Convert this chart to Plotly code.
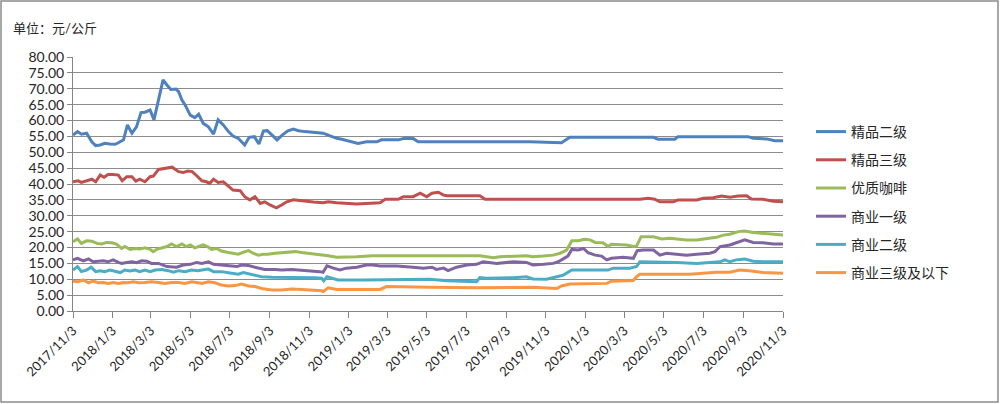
import plotly.graph_objects as go

# ---------------- data ----------------
series_names = ["精品二级", "精品三级", "优质咖啡", "商业一级", "商业二级", "商业三级及以下"]
series_colors = ["#4F81BD", "#C0504D", "#9BBB59", "#8064A2", "#4BACC6", "#F79646"]

dates_jp2 = ["2017-11-03", "2017-11-10", "2017-11-16", "2017-11-24", "2017-12-02", "2017-12-08", "2017-12-15",
             "2017-12-22", "2017-12-30", "2018-01-07", "2018-01-12", "2018-01-20", "2018-01-26", "2018-02-02",
             "2018-02-09", "2018-02-16", "2018-02-22", "2018-03-02", "2018-03-08", "2018-03-16", "2018-03-22",
             "2018-03-28", "2018-04-03", "2018-04-11", "2018-04-15", "2018-04-20", "2018-04-25", "2018-05-03",
             "2018-05-10", "2018-05-16", "2018-05-21", "2018-05-23", "2018-05-31", "2018-06-08", "2018-06-15",
             "2018-06-23", "2018-07-01", "2018-07-08", "2018-07-16", "2018-07-26", "2018-08-02", "2018-08-10",
             "2018-08-17", "2018-08-24", "2018-08-30", "2018-09-07", "2018-09-14", "2018-09-22", "2018-09-30",
             "2018-10-09", "2018-10-17", "2018-10-27", "2018-11-06", "2018-11-17", "2018-11-24", "2018-12-02",
             "2018-12-15", "2018-12-23", "2019-01-05", "2019-01-17", "2019-01-30", "2019-02-15", "2019-02-22",
             "2019-03-20", "2019-03-30", "2019-04-12", "2019-04-20", "2019-10-09", "2019-11-27", "2019-12-10",
             "2020-04-17", "2020-04-24", "2020-05-20", "2020-05-25", "2020-09-10", "2020-09-18", "2020-10-09",
             "2020-10-21", "2020-11-03"]
vals_jp2 = [55.4, 56.5, 55.7, 56.0, 53.3, 52.1, 52.3,
            52.8, 52.6, 52.5, 53.0, 53.9, 58.6, 56.0,
            58.0, 62.5, 62.6, 63.3, 60.2, 67.3, 72.8,
            71.2, 69.8, 69.9, 69.1, 66.5, 64.9, 61.7,
            60.9, 62.0, 60.2, 59.1, 58.0, 55.7, 60.2,
            58.6, 56.5, 55.1, 54.4, 52.3, 54.7, 54.9,
            52.6, 56.7, 56.8, 55.4, 53.9, 55.4, 56.7,
            57.3, 56.8, 56.5, 56.3, 56.2, 56.0, 55.4,
            54.4, 54.1, 53.3, 52.8, 53.3, 53.3, 53.9,
            53.9, 54.4, 54.3, 53.3, 53.3, 53.0, 54.7,
            54.7, 54.1, 54.1, 54.9, 54.9, 54.4, 54.2,
            53.6, 53.6]

dates_jp3 = ["2017-11-03", "2017-11-11", "2017-11-16", "2017-11-24", "2017-12-02", "2017-12-08", "2017-12-15",
             "2017-12-21", "2017-12-27", "2018-01-04", "2018-01-12", "2018-01-18", "2018-01-25", "2018-02-02",
             "2018-02-08", "2018-02-14", "2018-02-22", "2018-03-02", "2018-03-07", "2018-03-15", "2018-03-22",
             "2018-03-30", "2018-04-05", "2018-04-15", "2018-04-22", "2018-04-29", "2018-05-06", "2018-05-13",
             "2018-05-21", "2018-05-28", "2018-06-02", "2018-06-08", "2018-06-15", "2018-06-23", "2018-07-01",
             "2018-07-08", "2018-07-19", "2018-07-26", "2018-08-03", "2018-08-11", "2018-08-19", "2018-08-26",
             "2018-09-03", "2018-09-13", "2018-09-21", "2018-09-29", "2018-10-09", "2018-10-19", "2018-11-09",
             "2018-11-24", "2018-12-02", "2018-12-15", "2018-12-30", "2019-01-15", "2019-02-20", "2019-02-28",
             "2019-03-20", "2019-03-28", "2019-04-12", "2019-04-23", "2019-05-03", "2019-05-11", "2019-05-21",
             "2019-05-29", "2019-06-03", "2019-07-24", "2019-08-01", "2020-03-27", "2020-04-09", "2020-04-19",
             "2020-04-27", "2020-05-18", "2020-05-25", "2020-06-23", "2020-07-03", "2020-07-18", "2020-07-31",
             "2020-08-13", "2020-08-26", "2020-09-08", "2020-09-15", "2020-10-03", "2020-10-19", "2020-11-03"]
vals_jp3 = [40.7, 41.0, 40.5, 41.0, 41.5, 40.7, 42.8,
            42.1, 43.0, 43.0, 42.8, 41.0, 42.3, 42.3,
            40.9, 41.5, 40.7, 42.3, 42.5, 44.6, 44.9,
            45.1, 45.3, 43.9, 43.6, 44.1, 43.9, 42.6,
            41.0, 40.7, 40.2, 41.5, 40.5, 40.7, 39.2,
            38.1, 37.9, 36.0, 35.0, 36.0, 33.9, 34.4,
            33.4, 32.5, 33.4, 34.4, 35.0, 34.7, 34.3,
            34.1, 34.4, 34.1, 33.9, 33.7, 34.1, 35.2,
            35.2, 36.0, 36.0, 37.1, 36.0, 37.1, 37.4,
            36.5, 36.3, 36.3, 35.2, 35.2, 35.5, 35.2,
            34.4, 34.4, 35.0, 35.0, 35.5, 35.7, 36.2,
            35.8, 36.2, 36.3, 35.3, 35.2, 34.6, 34.4]

dates_yz = ["2017-11-03", "2017-11-10", "2017-11-16", "2017-11-24", "2017-12-02", "2017-12-10", "2017-12-17",
            "2017-12-25", "2018-01-02", "2018-01-09", "2018-01-17", "2018-01-22", "2018-01-30", "2018-02-07",
            "2018-02-14", "2018-02-22", "2018-03-02", "2018-03-07", "2018-03-12", "2018-03-20", "2018-03-28",
            "2018-04-04", "2018-04-12", "2018-04-20", "2018-04-27", "2018-05-03", "2018-05-10", "2018-05-16",
            "2018-05-23", "2018-05-31", "2018-06-05", "2018-06-13", "2018-06-20", "2018-07-01", "2018-07-08",
            "2018-07-16", "2018-07-24", "2018-08-01", "2018-08-08", "2018-08-16", "2018-08-24", "2018-08-31",
            "2018-09-11", "2018-09-21", "2018-10-01", "2018-10-12", "2018-10-22", "2018-11-01", "2018-11-11",
            "2018-11-22", "2018-12-02", "2018-12-15", "2019-01-05", "2019-01-15", "2019-02-09", "2019-07-24",
            "2019-08-14", "2019-08-24", "2019-10-04", "2019-10-14", "2019-10-30", "2019-11-14", "2019-11-25",
            "2019-12-05", "2019-12-13", "2019-12-23", "2020-01-02", "2020-01-10", "2020-01-18", "2020-01-30",
            "2020-02-07", "2020-02-12", "2020-03-07", "2020-03-17", "2020-03-22", "2020-03-29", "2020-04-17",
            "2020-04-30", "2020-05-12", "2020-06-07", "2020-06-23", "2020-07-08", "2020-07-23", "2020-08-03",
            "2020-08-13", "2020-08-26", "2020-09-05", "2020-09-18", "2020-10-03", "2020-10-19", "2020-11-03"]
vals_yz = [21.8, 22.7, 21.3, 22.1, 22.0, 21.3, 21.1,
           21.6, 21.5, 21.1, 19.7, 20.3, 19.4, 19.7,
           19.5, 19.9, 19.4, 18.7, 19.4, 19.9, 20.3,
           21.1, 20.3, 21.1, 20.3, 20.8, 19.9, 20.3,
           20.8, 20.1, 19.4, 19.7, 18.9, 18.4, 18.2,
           17.9, 18.5, 19.0, 18.2, 17.6, 17.9, 17.9,
           18.2, 18.4, 18.5, 18.7, 18.4, 18.2, 17.9,
           17.6, 17.4, 16.9, 16.9, 17.1, 17.4, 17.4,
           16.8, 17.1, 17.4, 17.1, 17.3, 17.6, 18.2,
           19.2, 22.1, 22.1, 22.6, 22.4, 21.6, 21.5,
           20.3, 21.0, 20.8, 20.3, 20.5, 23.4, 23.4,
           22.7, 22.9, 22.4, 22.4, 22.7, 23.2, 23.9,
           24.2, 25.0, 25.2, 24.7, 24.5, 24.3, 23.9]

dates_sy1 = ["2017-11-03", "2017-11-10", "2017-11-19", "2017-11-27", "2017-12-04", "2017-12-12", "2017-12-20",
             "2017-12-27", "2018-01-04", "2018-01-12", "2018-01-17", "2018-01-25", "2018-02-02", "2018-02-09",
             "2018-02-17", "2018-02-25", "2018-03-04", "2018-03-15", "2018-03-28", "2018-04-12", "2018-04-22",
             "2018-05-03", "2018-05-13", "2018-05-21", "2018-05-31", "2018-06-08", "2018-06-20", "2018-07-06",
             "2018-07-14", "2018-07-21", "2018-08-01", "2018-08-14", "2018-08-26", "2018-09-11", "2018-09-21",
             "2018-10-07", "2018-10-22", "2018-11-06", "2018-11-19", "2018-11-24", "2018-11-30", "2018-12-10",
             "2018-12-20", "2018-12-30", "2019-01-15", "2019-01-30", "2019-02-09", "2019-02-20", "2019-03-18",
             "2019-04-12", "2019-04-28", "2019-05-11", "2019-05-18", "2019-05-29", "2019-06-05", "2019-06-18",
             "2019-07-04", "2019-07-19", "2019-07-29", "2019-08-19", "2019-09-14", "2019-10-04", "2019-10-14",
             "2019-10-30", "2019-11-14", "2019-11-22", "2019-11-30", "2019-12-07", "2019-12-13", "2019-12-23",
             "2019-12-31", "2020-01-07", "2020-01-18", "2020-01-28", "2020-02-05", "2020-02-12", "2020-03-01",
             "2020-03-17", "2020-03-23", "2020-04-01", "2020-04-17", "2020-04-27", "2020-05-07", "2020-05-23",
             "2020-06-07", "2020-06-23", "2020-07-13", "2020-07-21", "2020-07-29", "2020-08-13", "2020-08-23",
             "2020-09-05", "2020-09-18", "2020-10-03", "2020-10-19", "2020-11-03"]
vals_sy1 = [16.1, 16.6, 15.8, 16.4, 15.5, 15.7, 15.8,
            15.5, 16.1, 15.3, 15.0, 15.3, 15.5, 15.2,
            15.8, 15.7, 15.0, 15.0, 14.0, 13.8, 14.5,
            14.7, 15.3, 15.0, 15.5, 14.7, 14.5, 14.3,
            14.0, 14.5, 14.3, 13.6, 13.1, 13.1, 12.9,
            13.1, 12.9, 12.7, 12.4, 12.2, 14.2, 13.5,
            12.9, 13.5, 13.8, 14.5, 14.5, 14.2, 14.2,
            13.8, 13.5, 13.8, 13.1, 13.5, 12.7, 13.8,
            14.5, 14.7, 15.5, 15.0, 15.5, 15.3, 14.5,
            14.7, 15.0, 15.5, 16.6, 17.3, 19.4, 19.2,
            19.7, 18.4, 17.6, 17.3, 16.1, 16.6, 16.9,
            16.6, 19.0, 19.2, 19.2, 17.6, 18.2, 17.9,
            17.6, 17.9, 18.2, 18.7, 20.3, 20.8, 21.5,
            22.4, 21.6, 21.5, 21.1, 21.1]

dates_sy2 = ["2017-11-03", "2017-11-10", "2017-11-16", "2017-11-24", "2017-12-01", "2017-12-08", "2017-12-15",
             "2017-12-22", "2017-12-30", "2018-01-07", "2018-01-15", "2018-01-22", "2018-01-30", "2018-02-07",
             "2018-02-14", "2018-02-22", "2018-03-02", "2018-03-10", "2018-03-20", "2018-03-30", "2018-04-07",
             "2018-04-15", "2018-04-25", "2018-05-05", "2018-05-15", "2018-05-21", "2018-05-31", "2018-06-08",
             "2018-06-20", "2018-07-06", "2018-07-16", "2018-07-24", "2018-08-08", "2018-08-21", "2018-09-06",
             "2018-09-26", "2018-10-27", "2018-11-11", "2018-11-22", "2018-11-25", "2018-11-30", "2018-12-11",
             "2018-12-17", "2019-01-25", "2019-03-18", "2019-05-08", "2019-06-03", "2019-07-19", "2019-07-24",
             "2019-08-03", "2019-09-14", "2019-10-04", "2019-10-14", "2019-11-04", "2019-11-20", "2019-11-30",
             "2019-12-13", "2020-02-07", "2020-02-15", "2020-03-12", "2020-03-22", "2020-03-27", "2020-05-23",
             "2020-06-23", "2020-07-13", "2020-07-29", "2020-08-05", "2020-08-13", "2020-08-23", "2020-09-05",
             "2020-09-18", "2020-10-03", "2020-11-03"]
vals_sy2 = [12.9, 14.0, 12.4, 12.9, 13.8, 12.4, 12.7,
            12.4, 12.9, 12.4, 12.1, 12.9, 12.6, 12.9,
            12.4, 12.9, 12.4, 12.9, 13.1, 12.7, 12.2,
            12.7, 12.4, 12.9, 12.7, 12.9, 13.2, 12.4,
            12.4, 11.9, 11.6, 12.1, 11.3, 10.8, 10.6,
            10.6, 10.6, 10.5, 10.3, 9.5, 10.8, 10.3,
            9.8, 9.8, 9.8, 10.0, 9.5, 9.2, 10.5,
            10.3, 10.5, 10.8, 10.1, 10.0, 10.8, 11.3,
            12.9, 12.9, 13.5, 13.5, 14.0, 15.5, 15.3,
            15.0, 15.3, 15.5, 16.1, 15.5, 16.1, 16.4,
            15.7, 15.5, 15.5]

dates_sy3 = ["2017-11-03", "2017-11-11", "2017-11-19", "2017-11-27", "2017-12-04", "2017-12-12", "2017-12-20",
             "2017-12-27", "2018-01-04", "2018-01-12", "2018-01-20", "2018-01-27", "2018-02-04", "2018-02-12",
             "2018-02-22", "2018-03-04", "2018-03-15", "2018-03-25", "2018-04-04", "2018-04-15", "2018-04-25",
             "2018-05-05", "2018-05-15", "2018-05-21", "2018-05-31", "2018-06-10", "2018-06-20", "2018-07-01",
             "2018-07-11", "2018-07-21", "2018-08-01", "2018-08-11", "2018-08-21", "2018-09-06", "2018-09-21",
             "2018-10-07", "2018-10-22", "2018-11-06", "2018-11-22", "2018-11-24", "2018-12-02", "2018-12-15",
             "2019-02-20", "2019-03-02", "2019-04-02", "2019-05-08", "2019-07-24", "2019-09-14", "2019-10-14",
             "2019-11-20", "2019-11-27", "2019-12-10", "2020-02-05", "2020-02-12", "2020-03-17", "2020-03-22",
             "2020-03-27", "2020-06-12", "2020-07-03", "2020-07-23", "2020-08-13", "2020-08-28", "2020-09-12",
             "2020-10-03", "2020-11-03"]
vals_sy3 = [9.4, 9.2, 9.8, 8.9, 9.4, 8.9, 9.0,
            8.7, 9.0, 8.7, 9.0, 8.9, 9.2, 8.9,
            9.0, 9.2, 9.0, 8.7, 9.0, 9.0, 8.7,
            9.2, 8.9, 8.7, 9.2, 8.9, 8.2, 7.9,
            8.0, 8.5, 7.9, 7.7, 7.1, 6.6, 6.6,
            6.9, 6.8, 6.6, 6.4, 6.1, 7.3, 6.8,
            6.8, 7.7, 7.7, 7.5, 7.3, 7.5, 7.5,
            7.1, 7.9, 8.5, 8.7, 9.4, 9.6, 10.8,
            11.6, 11.6, 11.9, 12.2, 12.2, 12.9, 12.7,
            12.1, 11.9]

tick_dates = ["2017-11-03", "2018-01-03", "2018-03-03", "2018-05-03", "2018-07-03", "2018-09-03",
              "2018-11-03", "2019-01-03", "2019-03-03", "2019-05-03", "2019-07-03", "2019-09-03",
              "2019-11-03", "2020-01-03", "2020-03-03", "2020-05-03", "2020-07-03", "2020-09-03",
              "2020-11-03"]
tick_labels = ["2017/11/3", "2018/1/3", "2018/3/3", "2018/5/3", "2018/7/3", "2018/9/3",
               "2018/11/3", "2019/1/3", "2019/3/3", "2019/5/3", "2019/7/3", "2019/9/3",
               "2019/11/3", "2020/1/3", "2020/3/3", "2020/5/3", "2020/7/3", "2020/9/3",
               "2020/11/3"]
y_ticks = [0, 5, 10, 15, 20, 25, 30, 35, 40, 45, 50, 55, 60, 65, 70, 75, 80]
unit_label = "单位：元/公斤"

all_dates = [dates_jp2, dates_jp3, dates_yz, dates_sy1, dates_sy2, dates_sy3]
all_vals = [vals_jp2, vals_jp3, vals_yz, vals_sy1, vals_sy2, vals_sy3]

# ---------------- figure ----------------
FONT = "Lato, 'Noto Sans CJK SC', sans-serif"
W, H = 1000, 404
ML, MR, MT, MB = 73, 217, 57, 93
PW, PH = W - ML - MR, H - MT - MB

fig = go.Figure()
for i, (name, col) in enumerate(zip(series_names, series_colors)):
    fig.add_trace(go.Scatter(
        x=all_dates[i], y=all_vals[i], name=name, mode="lines",
        line=dict(color=col, width=3), legendgroup=f"g{i}",
    ))

def px_x(p):
    return (p - ML) / PW

def px_y(p):
    return (H - MB - p) / PH

fig.update_layout(
    width=W, height=H,
    margin=dict(l=ML, r=MR, t=MT, b=MB, autoexpand=False),
    paper_bgcolor="white", plot_bgcolor="white",
    font=dict(family=FONT, color="#262626", size=14),
    showlegend=True,
    legend=dict(
        x=px_x(811), y=px_y(116), xanchor="left", yanchor="top",
        font=dict(family=FONT, size=14, color="#262626"),
        tracegroupgap=7, bgcolor="rgba(0,0,0,0)",
    ),
    xaxis=dict(
        type="date",
        range=["2017-11-03", "2020-11-03"],
        tickvals=tick_dates, ticktext=tick_labels,
        tickangle=-45, tickfont=dict(size=13, family=FONT, color="#262626"),
        ticks="outside", ticklen=6, tickcolor="#868686",
        showline=True, linecolor="#868686", linewidth=1,
        showgrid=False, zeroline=False,
    ),
    yaxis=dict(
        range=[0, 80], tickvals=y_ticks, tickformat=".2f",
        tickfont=dict(size=14, family=FONT, color="#262626"),
        ticks="outside", ticklen=5, tickcolor="#868686",
        showline=True, linecolor="#868686", linewidth=1,
        showgrid=True, gridcolor="#8C8C8C", gridwidth=1,
        zeroline=False,
    ),
    shapes=[dict(
        type="rect", xref="paper", yref="paper",
        x0=px_x(1), x1=px_x(998), y0=px_y(402), y1=px_y(1),
        line=dict(color="#8C8C8C", width=1.5), fillcolor="rgba(0,0,0,0)", layer="below",
    )],
    annotations=[dict(
        text=unit_label, xref="paper", yref="paper",
        x=px_x(11), y=px_y(28), xanchor="left", yanchor="middle",
        showarrow=False, font=dict(family=FONT, size=13, color="#262626"),
    )],
)

fig.write_html(
    "out.html",
    config={"displayModeBar": False},
    post_script="document.body.style.margin='0';document.body.style.overflow='hidden';",
)
